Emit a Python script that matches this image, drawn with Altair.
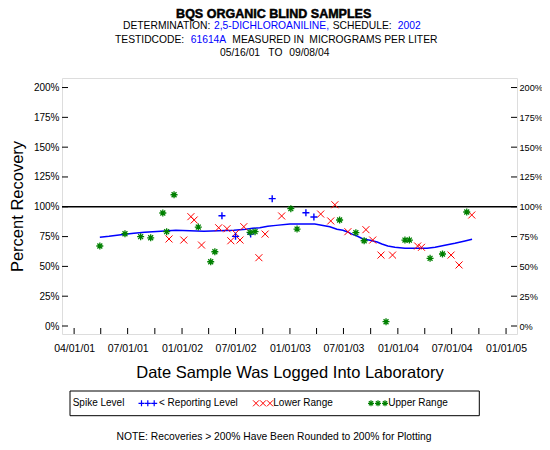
import json
import altair as alt
import pandas as pd

# ---------------- data ----------------
upper_dates = ["2001-03-29", "2001-06-22", "2001-08-14", "2001-09-17", "2001-10-28", "2001-11-10",
               "2001-12-05", "2002-02-25", "2002-04-08", "2002-04-22", "2002-08-19", "2002-09-05",
               "2003-01-04", "2003-01-25", "2003-06-18", "2003-08-12", "2003-09-09", "2003-11-22",
               "2004-01-25", "2004-02-09", "2004-04-19", "2004-05-31", "2004-08-21"]
upper_values = [67.1, 77.4, 74.9, 74.0, 94.8, 79.1,
                110.1, 83.0, 53.9, 62.3, 78.6, 79.1,
                98.4, 81.3, 88.9, 78.3, 71.5, 3.6,
                72.1, 72.1, 56.8, 60.4, 95.6]

lower_dates = ["2001-11-18", "2002-01-07", "2002-01-31", "2002-02-11", "2002-03-08", "2002-05-05",
               "2002-06-02", "2002-06-15", "2002-07-01", "2002-07-16", "2002-07-29", "2002-09-18",
               "2002-10-09", "2002-12-04", "2003-04-15", "2003-05-19", "2003-06-02", "2003-07-16",
               "2003-09-15", "2003-10-08", "2003-11-05", "2003-12-14", "2004-03-08", "2004-03-21",
               "2004-06-29", "2004-07-26", "2004-09-07"]
lower_values = [73.0, 72.1, 91.7, 88.9, 67.9, 82.4,
                81.6, 71.5, 77.7, 72.1, 83.3, 57.3,
                77.1, 92.3, 93.9, 88.1, 101.7, 79.1,
                80.8, 72.1, 59.5, 59.5, 67.1, 66.0,
                59.5, 51.2, 93.1]

report_dates = ["2002-05-16", "2002-07-01", "2002-08-21", "2002-11-02", "2003-02-24", "2003-03-23"]
report_values = [92.5, 75.2, 77.1, 106.8, 95.0, 91.4]

smooth_dates = ["2001-03-29", "2001-04-29", "2001-05-26", "2001-06-22", "2001-07-22", "2001-08-28",
                "2001-10-21", "2001-12-11", "2002-03-16", "2002-06-25", "2002-08-05", "2002-08-28",
                "2002-09-21", "2002-10-18", "2002-11-15", "2003-01-01", "2003-03-26", "2003-05-16",
                "2003-06-09", "2003-06-29", "2003-07-13", "2003-07-30", "2003-08-16", "2003-09-05",
                "2003-09-29", "2003-10-23", "2003-11-08", "2003-11-28", "2003-12-22", "2004-01-25",
                "2004-04-09", "2004-05-06", "2004-06-08", "2004-07-12", "2004-08-15", "2004-09-08"]
smooth_values = [74.4, 75.2, 76.1, 76.9, 77.7, 78.6,
                 79.4, 80.3, 79.4, 80.3, 81.1, 81.9,
                 82.4, 83.6, 84.4, 85.5, 85.5, 83.3,
                 81.1, 80.3, 79.1, 77.1, 75.5, 73.0,
                 71.9, 70.4, 68.8, 67.1, 66.0, 65.2,
                 65.2, 66.0, 67.7, 69.4, 71.3, 72.7]

reference_level = [100]
y_tick_values = [0, 25, 50, 75, 100, 125, 150, 175, 200]
x_tick_dates = ["2001-01-01", "2001-04-01", "2001-07-01", "2001-10-01", "2002-01-01", "2002-04-01",
                "2002-07-01", "2002-10-01", "2003-01-01", "2003-04-01", "2003-07-01", "2003-10-01",
                "2004-01-01", "2004-04-01", "2004-07-01", "2004-10-01", "2005-01-01"]
x_label_dates = ["2001-01-01", "2001-07-01", "2002-01-01", "2002-07-01", "2003-01-01",
                 "2003-07-01", "2004-01-01", "2004-07-01", "2005-01-01"]
x_labels = ["04/01/01", "07/01/01", "01/01/02", "07/01/02", "01/01/03",
            "07/01/03", "01/01/04", "07/01/04", "01/01/05"]
x_domain = ["2000-11-21", "2005-02-07"]
y_domain = [-6.7, 208]

# ---------------- layout ----------------
W, H = 455, 256
FONT = "Liberation Sans"
BLUE, RED, GREEN = "#0000ff", "#ff0000", "#008000"

PLUS = "M-1,0L1,0M0,-1L0,1"
EX = "M-1,-1L1,1M-1,1L1,-1"
STAR = "M-1,0L1,0M0,-1L0,1M-0.7,-0.7L0.7,0.7M-0.7,0.7L0.7,-0.7"


def dt(s):
    y, m, d = (int(p) for p in s.split("-"))
    return alt.DateTime(year=y, month=m, date=d, utc=True)


label_expr = "%s[indexof(%s, utcFormat(datum.value, '%%Y-%%m-%%d'))]" % (
    json.dumps(x_labels), json.dumps(x_label_dates))

x_axis = alt.Axis(values=[dt(s) for s in x_label_dates], labelExpr=label_expr,
                  ticks=False, tickSize=0, domain=False, grid=False,
                  labelPadding=9, labelFontSize=10.5, labelFont=FONT, labelColor="black",
                  labelOverlap=False, labelFlush=False, labelAngle=0,
                  title="Date Sample Was Logged Into Laboratory", titleFont=FONT,
                  titleFontSize=16.5, titleFontWeight="normal", titleColor="black",
                  titleX=W / 2, titleY=38.5, titleAlign="center", titleBaseline="middle")
x_scale = alt.Scale(type="utc", domain=[dt(s) for s in x_domain])
y_scale = alt.Scale(domain=y_domain, nice=False, zero=False)


def X():
    return alt.X("date:T", scale=x_scale, axis=x_axis)


def Y(axis=None):
    return alt.Y("value:Q", scale=y_scale, axis=axis)


def frame(dates, values):
    return pd.DataFrame({"date": dates, "value": values})


# frame ticks (inward)
xt = alt.Chart(pd.DataFrame({"date": x_tick_dates})).mark_rule(color="black", strokeWidth=1).encode(
    x=X(), y=alt.value(H - 6), y2=alt.value(H))

left_axis = alt.Axis(orient="left", values=y_tick_values, labelExpr="datum.value + '%'",
                     ticks=False, tickSize=0, domain=False, grid=False, labelPadding=3,
                     labelFontSize=10, labelFont=FONT, labelColor="black",
                     title="Percent Recovery", titleFont=FONT, titleFontSize=16.5,
                     titleFontWeight="normal", titleColor="black", titleAngle=270,
                     titleX=-44.5, titleY=128, titleAlign="center", titleBaseline="middle")
right_axis = alt.Axis(orient="right", values=y_tick_values, labelExpr="datum.value + '%'",
                      ticks=False, tickSize=0, domain=False, grid=False, labelPadding=2,
                      labelFontSize=9.2, labelFont=FONT, labelColor="black", title=None)

yt_left = alt.Chart(pd.DataFrame({"value": y_tick_values})).mark_rule(color="black").encode(
    y=Y(left_axis), x=alt.value(0), x2=alt.value(6))
yt_right = alt.Chart(pd.DataFrame({"value": y_tick_values})).mark_rule(color="black").encode(
    y=Y(right_axis), x=alt.value(W - 6), x2=alt.value(W))

ref = alt.Chart(pd.DataFrame({"value": reference_level})).mark_rule(color="black", strokeWidth=1.6).encode(
    y=Y(), x=alt.value(0), x2=alt.value(W))

smooth = alt.Chart(frame(smooth_dates, smooth_values)).mark_line(color=BLUE, strokeWidth=1.5).encode(
    x=X(), y=Y())

upper = alt.Chart(frame(upper_dates, upper_values)).mark_point(
    shape=STAR, size=49, filled=False, color=GREEN, strokeWidth=1.3, opacity=1).encode(x=X(), y=Y())
lower = alt.Chart(frame(lower_dates, lower_values)).mark_point(
    shape=EX, size=49, filled=False, color=RED, strokeWidth=1.0, opacity=1).encode(x=X(), y=Y())
report = alt.Chart(frame(report_dates, report_values)).mark_point(
    shape=PLUS, size=49, filled=False, color=BLUE, strokeWidth=1.4, opacity=1).encode(x=X(), y=Y())


def txt(s, x, y, color="black", size=10.3, weight="normal", align="left", stroke=None):
    kw = dict(x=x, y=y, align=align, baseline="middle", fontSize=size, fontWeight=weight,
              color=color, font=FONT)
    if stroke:
        kw.update(stroke=color, strokeWidth=stroke)
    return alt.Chart(pd.DataFrame({"t": [s]})).mark_text(**kw).encode(text="t:N")


def sym(shape, x, y, color, sw):
    return alt.Chart(pd.DataFrame({"t": [0]})).mark_point(
        shape=shape, x=x, y=y, size=36, filled=False, color=color, strokeWidth=sw, opacity=1)


texts = [
    txt("BQS ORGANIC BLIND SAMPLES", 211.7, -64.5, size=12.5, weight="bold", align="center", stroke=0.5),
    txt("DETERMINATION:", 61, -52),
    txt("2,5-DICHLOROANILINE,", 152, -52, color=BLUE),
    txt("SCHEDULE:", 270.7, -52),
    txt("2002", 335.7, -52, color=BLUE),
    txt("TESTIDCODE:", 53, -38.3),
    txt("61614A", 128.7, -38.3, color=BLUE),
    txt("MEASURED IN", 170.3, -38.3),
    txt("MICROGRAMS PER LITER", 247.3, -38.3),
    txt("05/16/01", 158, -25),
    txt("TO", 206.3, -25),
    txt("09/08/04", 227.3, -25),
    txt("Spike Level", 10.7, 325.3, size=10),
    txt("< Reporting Level", 97, 325.3, size=10),
    txt("Lower Range", 211.3, 325.3, size=10),
    txt("Upper Range", 326.3, 325.3, size=10),
    txt("NOTE: Recoveries > 200% Have Been Rounded to 200% for Plotting", 212, 358.5, size=10.3, align="center"),
]

legend_box = alt.Chart(pd.DataFrame({"t": [0]})).mark_rect(
    x=8, x2=417.3, y=313, y2=337.7, fillOpacity=0, stroke="black", strokeWidth=1)

syms = []
for cx in (79.5, 85.8, 92.2):
    syms.append(sym(PLUS, cx, 325.3, BLUE, 1.2))
for cx in (194, 201, 208):
    syms.append(sym(EX, cx, 325.3, RED, 1.0))
for cx in (309, 316, 323):
    syms.append(sym(STAR, cx, 325.3, GREEN, 1.2))

chart = alt.layer(
    xt, yt_left, yt_right, ref, smooth, lower, report, upper, legend_box, *syms, *texts
).resolve_scale(y="independent").properties(
    width=W, height=H,
    autosize=alt.AutoSizeParams(type="none"),
    padding={"left": 54, "top": 70, "right": 25, "bottom": 108},
).configure_view(stroke="black", strokeWidth=1).configure(font=FONT)

chart.save("out.html", embed_options={"renderer": "svg", "actions": False})
